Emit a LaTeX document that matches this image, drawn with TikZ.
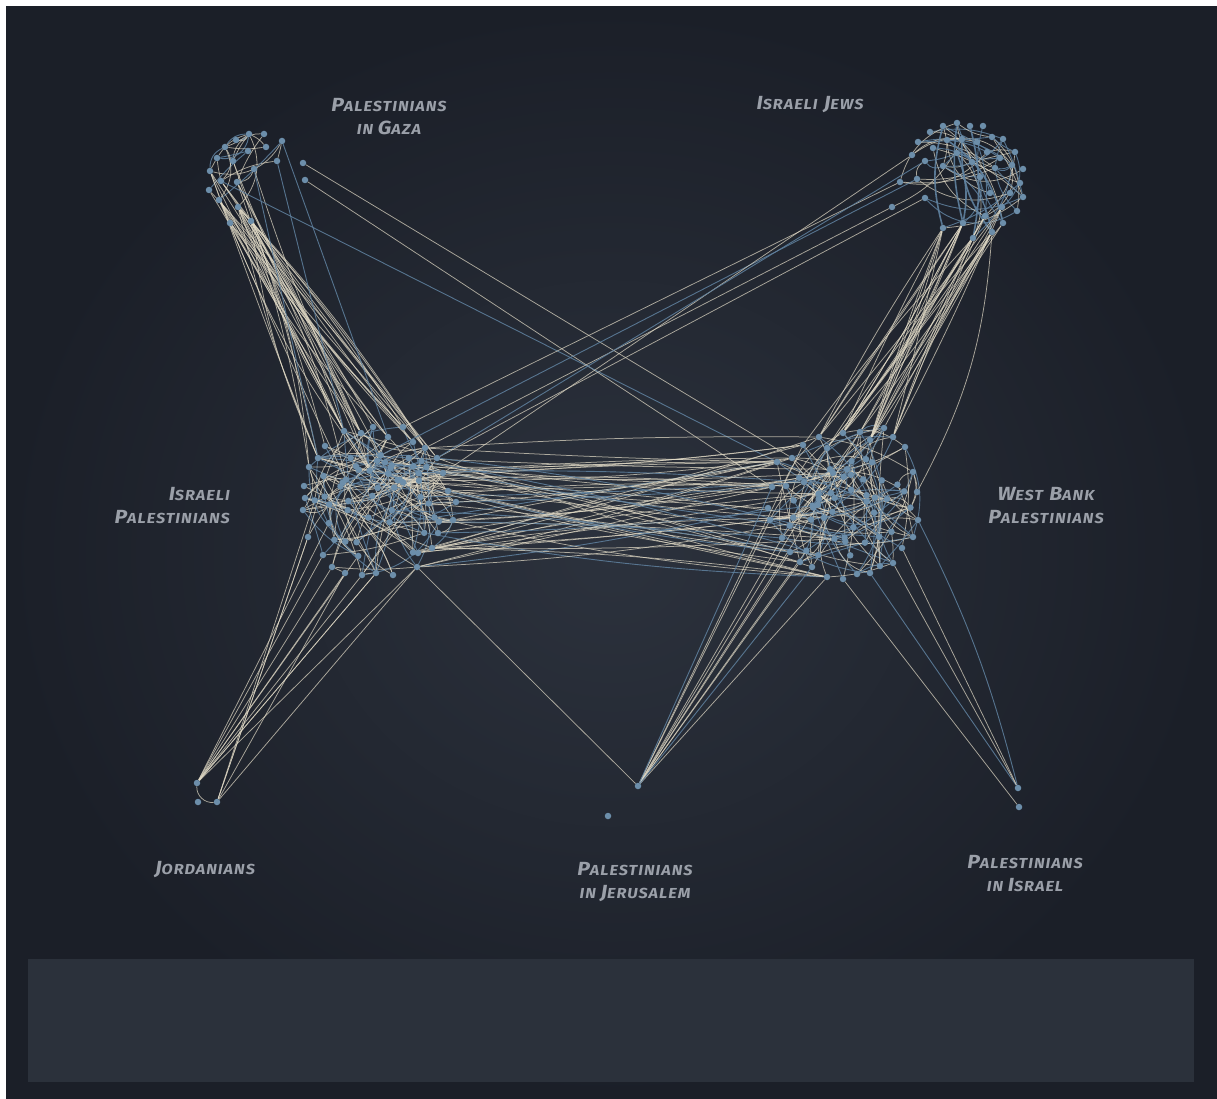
\documentclass[tikz,border=0pt]{standalone}
\usepackage{fontspec}
\newfontfamily\labfont{Fira Sans}[LetterSpace=7,FakeStretch=1.12]
\definecolor{bgin}{RGB}{44,50,61}
\definecolor{bgout}{RGB}{27,31,40}
\definecolor{panelc}{RGB}{43,49,59}
\definecolor{dotc}{RGB}{108,142,170}
\definecolor{creamc}{RGB}{225,218,198}
\definecolor{bluec}{RGB}{96,130,160}
\definecolor{labc}{RGB}{155,160,169}
\pgfdeclarelayer{bg}
\pgfdeclarelayer{edges}
\pgfsetlayers{bg,edges,main}
\newcommand\SCw[2]{{\fontsize{19}{23}\selectfont #1}{\fontsize{14.5}{23}\selectfont #2}}
\begin{document}
\begin{tikzpicture}[x=1pt,y=-1pt,
  dot/.style={circle,fill=dotc,inner sep=0pt,minimum size=6.5pt},
  ec/.style={draw=creamc,line width=0.75pt,draw opacity=0.72},
  eb/.style={draw=bluec,line width=0.9pt,draw opacity=0.85},
  ebt/.style={draw=bluec,line width=1.6pt,draw opacity=0.9},
  lab/.style={text=labc,font=\labfont\bfseries\itshape\fontsize{19}{23}\selectfont,align=center,inner sep=0pt}]
\useasboundingbox (0,0) rectangle (1217,1099);
\pgfmathsetseed{2024}
\begin{pgfonlayer}{bg}
  \fill[white] (0,0) rectangle (1217,1099);
  \fill[bgout] (6,7) rectangle (1217,1099);
  \shade[inner color=bgin, outer color=bgout] (6,7) rectangle (1217,1099);
  \fill[panelc] (28,959) rectangle (1194,1082);
\end{pgfonlayer}

% ---- Gaza
\foreach \x/\y [count=\i] in {249/134,264/134,236/140,282/141,225/147,248/151,266/147,217/158,233/161,277/161,210/171,221/181,237/182,254/169,209/190,219/200,238/207,230/223,251/221,303/163,305/180}
  \node[dot] (g\i) at (\x,\y) {};
% ---- Israeli Jews
\foreach \x/\y [count=\i] in {943/126,957/123,930/132,970/126,983/126,918/142,947/140,962/139,977/142,992/137,1003/139,933/148,957/153,912/155,925/161,943/166,972/162,987/152,1015/152,1000/158,1012/165,1023/169,995/168,980/177,1020/183,917/179,900/182,990/193,1010/193,1023/197,925/198,892/207,1002/207,1017/211,985/216,1003/223,992/232,943/228,963/223,973/238}
  \node[dot] (j\i) at (\x,\y) {};
% ---- Israeli Palestinians ring
\foreach \x/\y [count=\i] in {325/446,344/431,361/433,373/427,388/437,403/427,413/442,425/448,437/458,443/473,448/491,456/502,453/520,438/533,432/548,418/553,417/567,393/575,376/573,362/575,345/573,332/567,323/555,308/537,303/510,305/498,304/486,309/467,318/458}
  \node[dot] (ip\i) at (\x,\y) {};
\foreach \i in {30,...,52}{
  \pgfmathsetmacro\rrA{sqrt(rnd)}
  \pgfmathsetmacro\aaA{-90+180*rnd}
  \node[dot] (ip\i) at ({378+64*\rrA*cos(\aaA)},{505+60*\rrA*sin(\aaA)}) {};
}
\foreach \i in {53,...,74}{
  \pgfmathsetmacro\rrA{sqrt(rnd)}
  \pgfmathsetmacro\aaA{90+180*rnd}
  \node[dot] (ip\i) at ({378+64*\rrA*cos(\aaA)},{505+60*\rrA*sin(\aaA)}) {};
}
% ---- West Bank ring
\foreach \x/\y [count=\i] in {777/462,792/458,803/445,819/437,827/448,843/433,860/432,870/440,884/428,893/437,905/447,913/472,917/492,918/520,913/537,902/548,893/563,880/566,870/573,857/574,843/579,827/577,812/567,800/562,790/552,782/538,770/520,768/508,772/487}
  \node[dot] (wb\i) at (\x,\y) {};
\foreach \i in {30,...,52}{
  \pgfmathsetmacro\rrA{sqrt(rnd)}
  \pgfmathsetmacro\aaA{90+180*rnd}
  \node[dot] (wb\i) at ({845+66*\rrA*cos(\aaA)},{505+58*\rrA*sin(\aaA)}) {};
}
\foreach \i in {53,...,74}{
  \pgfmathsetmacro\rrA{sqrt(rnd)}
  \pgfmathsetmacro\aaA{-90+180*rnd}
  \node[dot] (wb\i) at ({845+66*\rrA*cos(\aaA)},{505+58*\rrA*sin(\aaA)}) {};
}
% ---- small groups
\node[dot] (jo1) at (197,783) {};
\node[dot] (jo2) at (198,802) {};
\node[dot] (jo3) at (217,802) {};
\node[dot] (je1) at (638,786) {};
\node[dot] (je2) at (608,816) {};
\node[dot] (pi1) at (1018,788) {};
\node[dot] (pi2) at (1019,807) {};

% ---- labels
\node[lab] (lgaza) at (389,117) {\SCw{P}{ALESTINIANS}\\\SCw{}{IN }\SCw{G}{AZA}};
\node[lab] (lij) at (810,105) {\SCw{I}{SRAELI} \SCw{J}{EWS}};
\node[lab,anchor=east,align=right] (lip) at (230,506) {\SCw{I}{SRAELI}\\\SCw{P}{ALESTINIANS}};
\node[lab] (lwb) at (1046,506) {\SCw{W}{EST} \SCw{B}{ANK}\\\SCw{P}{ALESTINIANS}};
\node[lab] (ljo) at (205,870) {\SCw{J}{ORDANIANS}};
\node[lab] (lje) at (635,882) {\SCw{P}{ALESTINIANS}\\\SCw{}{IN }\SCw{J}{ERUSALEM}};
\node[lab] (lpi) at (1025,874) {\SCw{P}{ALESTINIANS}\\\SCw{}{IN }\SCw{I}{SRAEL}};

\begin{pgfonlayer}{edges}
% IP internal
\foreach \k in {1,...,160}{
  \pgfmathtruncatemacro\sA{random(1,74)}
  \pgfmathtruncatemacro\tB{mod(\sA+random(1,73)-1,74)+1}
  \pgfmathtruncatemacro\bC{random(0,70)-35}
  \pgfmathtruncatemacro\cD{random(1,10)}
  \ifnum\cD>6 \draw[eb] (ip\sA) to[bend left=\bC] (ip\tB);
  \else \draw[ec] (ip\sA) to[bend left=\bC] (ip\tB); \fi
}
% WB internal
\foreach \k in {1,...,140}{
  \pgfmathtruncatemacro\sA{random(1,74)}
  \pgfmathtruncatemacro\tB{mod(\sA+random(1,73)-1,74)+1}
  \pgfmathtruncatemacro\bC{random(0,70)-35}
  \pgfmathtruncatemacro\cD{random(1,10)}
  \ifnum\cD>6 \draw[eb] (wb\sA) to[bend left=\bC] (wb\tB);
  \else \draw[ec] (wb\sA) to[bend left=\bC] (wb\tB); \fi
}
% Gaza internal
\foreach \k in {1,...,24}{
  \pgfmathtruncatemacro\sA{random(1,14)}
  \pgfmathtruncatemacro\tB{mod(\sA+random(1,18)-1,19)+1}
  \pgfmathtruncatemacro\bC{random(0,90)-45}
  \pgfmathtruncatemacro\cD{random(1,10)}
  \ifnum\cD>7 \draw[eb] (g\sA) to[bend left=\bC] (g\tB);
  \else \draw[ec] (g\sA) to[bend left=\bC] (g\tB); \fi
}
% IJ internal
\foreach \k in {1,...,60}{
  \pgfmathtruncatemacro\sA{random(1,40)}
  \pgfmathtruncatemacro\tB{mod(\sA+random(1,39)-1,40)+1}
  \pgfmathtruncatemacro\bC{random(0,80)-40}
  \pgfmathtruncatemacro\cD{random(1,10)}
  \ifnum\cD>5 \draw[eb] (j\sA) to[bend left=\bC] (j\tB);
  \else \draw[ec] (j\sA) to[bend left=\bC] (j\tB); \fi
}
\draw[ebt] (j1) to[bend right=15] (j38);
\draw[ebt] (j2) to[bend right=10] (j39);
\draw[ebt] (j4) to[bend left=12] (j40);
\draw[ebt] (j8) to[bend right=20] (j37);
\draw[ebt] (j13) to[bend left=15] (j39);
\draw[ebt] (j7) to[bend left=20] (j36);
% Gaza -> IP bundle
\foreach \k in {1,...,40}{
  \pgfmathtruncatemacro\sA{{9,11,12,13,14,15,16,17,18,19,18,19,17,16}[random(0,13)]}
  \pgfmathtruncatemacro\tB{{1,2,3,4,5,6,7,8,9,28,29,2,3,4,5,30,31,53,54}[random(0,18)]}
  \pgfmathtruncatemacro\bC{random(0,16)-8}
  \draw[ec] (g\sA) to[bend left=\bC] (ip\tB);
}
\draw[eb] (g10) -- (ip2);
\draw[eb] (g14) -- (ip29);
\draw[eb] (g4) -- (ip5);
% IJ -> WB bundle
\foreach \k in {1,...,34}{
  \pgfmathtruncatemacro\sA{{33,35,36,37,38,39,40,37,38,39,40}[random(0,10)]}
  \pgfmathtruncatemacro\tB{random(3,11)}
  \pgfmathtruncatemacro\bC{random(0,10)-5}
  \draw[ec] (j\sA) to[bend left=\bC] (wb\tB);
}
\draw[ec] (j37) to[bend left=12] (wb13);
% long crossing lines
\draw[ec] (g20) -- (wb2);
\draw[ec] (g21) -- (wb29);
\draw[eb] (g12) -- (wb1);
\draw[ec] (j32) -- (ip8);
\draw[ec] (j31) -- (ip9);
\draw[ec] (j27) -- (ip6);
\draw[eb] (j26) -- (ip31);
\draw[ec] (j14) -- (ip10);
\draw[eb] (ip9) -- (j15);
% bridge IP <-> WB
\foreach \k in {1,...,62}{
  \pgfmathtruncatemacro\cA{random(1,10)}
  \ifnum\cA>5 \pgfmathtruncatemacro\sA{random(8,17)}\else\pgfmathtruncatemacro\sA{random(30,52)}\fi
  \pgfmathtruncatemacro\cB{random(1,10)}
  \ifnum\cB>5 \pgfmathtruncatemacro\tB{{1,2,3,4,22,23,24,25,26,27,28,29}[random(0,11)]}\else\pgfmathtruncatemacro\tB{random(30,52)}\fi
  \pgfmathtruncatemacro\bC{random(0,8)-4}
  \pgfmathtruncatemacro\cD{random(1,10)}
  \ifnum\cD>8 \draw[eb] (ip\sA) to[bend left=\bC] (wb\tB);
  \else \draw[ec] (ip\sA) to[bend left=\bC] (wb\tB); \fi
}
% IP -> Jordanians
\foreach \k in {1,...,14}{
  \pgfmathtruncatemacro\sA{{17,18,19,20,21,22,23,24,55,60,65,70}[random(0,11)]}
  \pgfmathtruncatemacro\tB{{1,3,1,3,1}[random(0,4)]}
  \draw[ec] (ip\sA) -- (jo\tB);
}
\draw[ec] (jo1) to[bend right=50] (jo3);
% to Jerusalem
\draw[ec] (ip17) -- (je1);
\foreach \s in {22,24,25,26,27,35,40,44,3}
  \draw[ec] (wb\s) -- (je1);
\draw[eb] (wb23) -- (je1);
\draw[eb] (wb29) -- (je1);
% to Palestinians in Israel
\draw[ec] (wb16) -- (pi1);
\draw[eb] (wb14) to[bend left=6] (pi1);
\draw[ec] (wb21) -- (pi2);
\draw[eb] (wb19) -- (pi1);
\draw[ec] (wb17) -- (pi1);
\end{pgfonlayer}
\end{tikzpicture}
\end{document}
